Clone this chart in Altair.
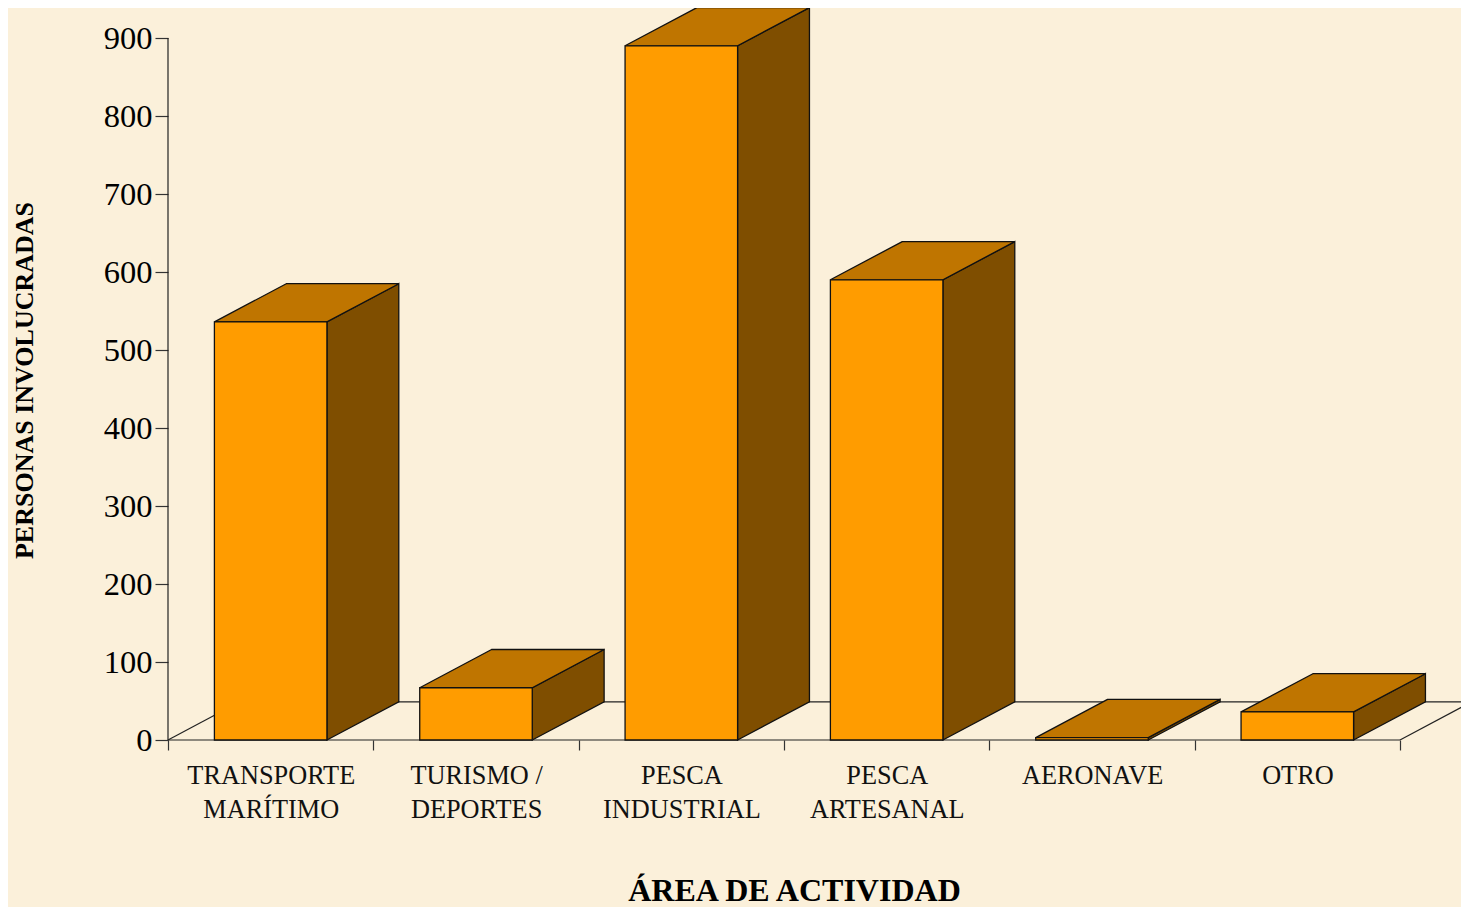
import altair as alt
import pandas as pd

line1 = ["TRANSPORTE", "TURISMO /", "PESCA", "PESCA", "AERONAVE", "OTRO"]
line2 = ["MARÍTIMO", "DEPORTES", "INDUSTRIAL", "ARTESANAL", "", ""]
values = [536, 67, 890, 590, 3, 36]
y_ticks = [0, 100, 200, 300, 400, 500, 600, 700, 800, 900]
x_ticks = [0, 1, 2, 3, 4, 5, 6]

BAR_W = 0.548
DX = 0.35
DY = 49
PLOT_W = 1293
X_MAX = PLOT_W / 205.33
Y_MAX = 732 / 0.78
FONT = "Liberation Serif"
BG = "#FBF0DA"

x_scale = alt.Scale(domain=[0, X_MAX], range=[0, PLOT_W], nice=False, zero=False)
y_scale = alt.Scale(domain=[0, Y_MAX], range=[732, 0], nice=False, zero=False)

front, side, top, labels = [], [], [], []
for i, v in enumerate(values):
    x0 = i + 0.226
    x1 = x0 + BAR_W
    front.append({"x": x0, "x2": x1, "y": 0, "y2": v})
    side += [
        {"b": i, "x": x1, "y": 0, "y2": v},
        {"b": i, "x": x1 + DX, "y": DY, "y2": v + DY},
    ]
    top += [
        {"b": i, "y": v, "x": x0, "x2": x1},
        {"b": i, "y": v + DY, "x": x0 + DX, "x2": x1 + DX},
    ]
    labels.append({"x": i + 0.503, "t": line1[i] + ("\n" + line2[i] if line2[i] else "")})

frame = pd.DataFrame([
    {"x": 0, "x2": 6, "y": 0, "y2": 0},
    {"x": 0, "x2": 0, "y": 0, "y2": 900},
    {"x": 0, "x2": DX, "y": 0, "y2": DY},
    {"x": 6, "x2": 6 + DX, "y": 0, "y2": DY},
    {"x": DX, "x2": 6 + DX, "y": DY, "y2": DY},
])

X = alt.X(
    "x:Q", scale=x_scale,
    axis=alt.Axis(
        values=x_ticks, labels=False, grid=False, domain=False, ticks=True,
        tickSize=10, tickColor="#333333", tickWidth=1.2,
        title="ÁREA DE ACTIVIDAD", titleFont=FONT, titleFontSize=32,
        titleFontWeight="bold", titleColor="#000000", titleX=626, titleY=150,
        titleBaseline="middle", titleAlign="center",
    ),
)
Y = alt.Y(
    "y:Q", scale=y_scale, stack=False,
    axis=alt.Axis(
        values=y_ticks, grid=False, domain=False, ticks=True, tickSize=13,
        tickColor="#333333", tickWidth=1.2, labelFont=FONT, labelFontSize=32.5,
        labelColor="#000000", labelPadding=3,
        title="PERSONAS INVOLUCRADAS", titleFont=FONT, titleFontSize=26,
        titleFontWeight="bold", titleColor="#000000", titleX=-144, titleY=372,
        titleBaseline="middle", titleAlign="center", titleAngle=270,
    ),
)

frame_layer = alt.Chart(frame).mark_rule(color="#222222", strokeWidth=1.2, clip=False).encode(
    x=X, x2="x2:Q", y=Y, y2="y2:Q"
)
front_layer = alt.Chart(pd.DataFrame(front)).mark_rect(
    color="#FF9C00", stroke="#111111", strokeWidth=1.3
).encode(x=alt.X("x:Q", scale=x_scale), x2="x2:Q",
         y=alt.Y("y:Q", scale=y_scale, stack=False), y2="y2:Q")
side_layer = alt.Chart(pd.DataFrame(side)).mark_area(
    color="#7F4E00", stroke="#111111", strokeWidth=1.3, line=False, clip=False
).encode(x=alt.X("x:Q", scale=x_scale),
         y=alt.Y("y:Q", scale=y_scale, stack=False), y2="y2:Q", detail="b:N")
top_layer = alt.Chart(pd.DataFrame(top)).mark_area(
    color="#BF7500", stroke="#111111", strokeWidth=1.3, orient="horizontal", clip=False
).encode(y=alt.Y("y:Q", scale=y_scale, stack=False),
         x=alt.X("x:Q", scale=x_scale), x2="x2:Q", detail="b:N")
label_layer = alt.Chart(pd.DataFrame(labels)).mark_text(
    font=FONT, fontSize=26.3, color="#111111", lineBreak="\n", lineHeight=34,
    baseline="middle", align="center",
).encode(x=alt.X("x:Q", scale=x_scale), y=alt.value(768), text="t:N")

chart = alt.layer(frame_layer, side_layer, top_layer, front_layer, label_layer).properties(
    width=PLOT_W, height=732, background=BG,
    padding={"left": 160, "top": 0, "right": 0, "bottom": 167},
    autosize=alt.AutoSizeParams(type="none"),
).configure_view(stroke=None)

chart.save("out.html", embed_options={"renderer": "svg", "actions": False})
